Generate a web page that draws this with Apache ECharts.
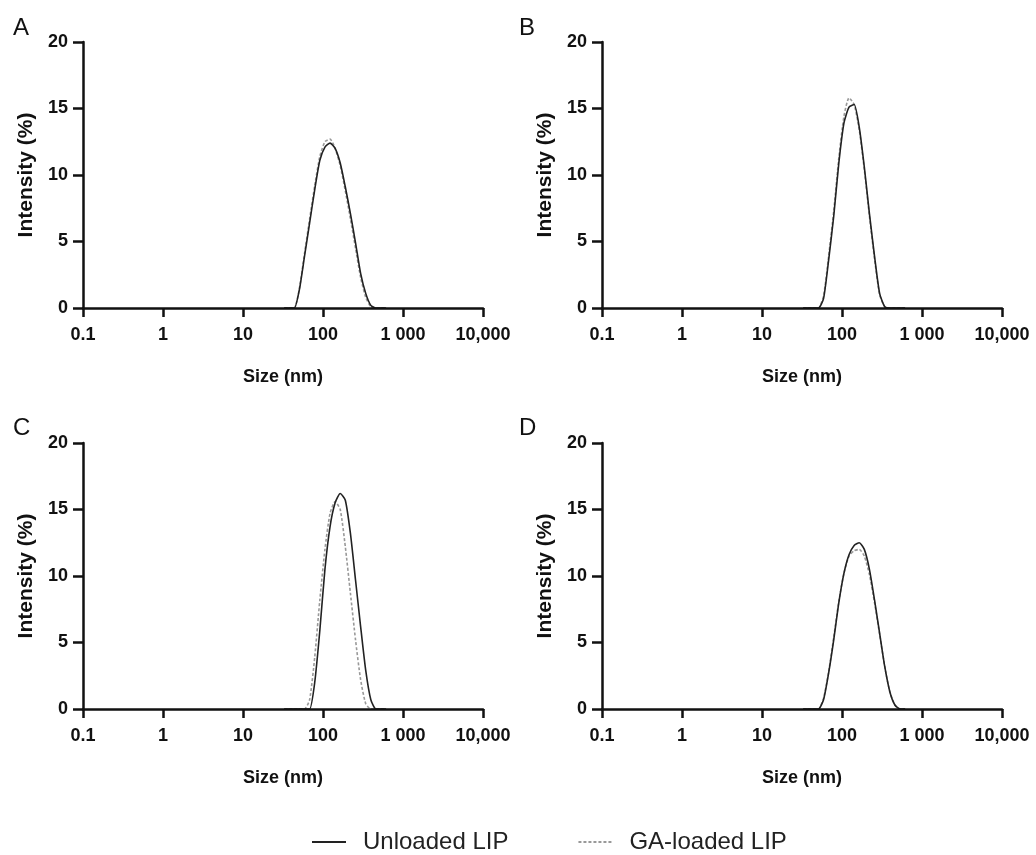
<!DOCTYPE html>
<html>
<head>
<meta charset="utf-8">
<script src="https://cdn.jsdelivr.net/npm/echarts@6/dist/echarts.min.js"></script>
<style>
  html, body { margin: 0; padding: 0; background: #fff; }
  #chart { width: 1036px; height: 855px; }
</style>
</head>
<body>
<div id="chart"></div>
<script>
// size bins (nm) used by the DLS instrument around the peaks
const sizes = [32.67, 37.84, 43.82, 50.75, 58.77, 68.06, 78.82, 91.28, 105.7, 122.4, 141.8,
  164.2, 190.1, 220.2, 255.0, 295.3, 342.0, 396.1, 458.7, 531.2, 615.1];

// intensity (%) per bin
const unloadedA = [0, 0, 0, 1.4, 3.9, 6.4, 8.9, 11.1, 12.1, 12.4, 12.0, 10.9, 9.1, 7.1, 4.9, 2.6, 1.1, 0.2, 0, 0, 0];
const loadedA   = [0, 0, 0, 1.5, 4.1, 6.7, 9.2, 11.4, 12.5, 12.7, 12.0, 10.7, 8.8, 6.7, 4.5, 2.3, 0.8, 0.1, 0, 0, 0];
const unloadedB = [0, 0, 0, 0, 0.7, 3.6, 6.9, 10.9, 13.9, 15.1, 15.3, 13.6, 10.6, 7.1, 3.9, 1.1, 0.1, 0, 0, 0, 0];
const loadedB   = [0, 0, 0, 0, 0.9, 3.9, 7.3, 11.3, 14.4, 15.8, 15.3, 13.4, 10.4, 6.9, 3.7, 1.0, 0.1, 0, 0, 0, 0];
const unloadedC = [0, 0, 0, 0, 0, 0, 2.0, 5.9, 10.5, 13.7, 15.5, 16.2, 15.7, 13.2, 9.7, 6.2, 2.9, 0.7, 0, 0, 0];
const loadedC   = [0, 0, 0, 0, 0, 0.7, 3.9, 8.2, 12.0, 14.7, 15.6, 15.0, 12.2, 8.7, 5.2, 2.2, 0.4, 0, 0, 0, 0];
const unloadedD = [0, 0, 0, 0, 0.7, 2.7, 5.2, 8.0, 10.2, 11.6, 12.3, 12.5, 12.0, 10.5, 8.2, 5.7, 3.2, 1.3, 0.3, 0, 0];
const loadedD   = [0, 0, 0, 0, 0.8, 2.8, 5.4, 8.1, 10.2, 11.5, 11.9, 12.0, 11.5, 10.1, 8.0, 5.6, 3.2, 1.3, 0.3, 0, 0];

const panelNames = ['A', 'B', 'C', 'D'];
const xTickLabels = { 0.1: '0.1', 1: '1', 10: '10', 100: '100', 1000: '1 000', 10000: '10,000' };

const unloaded = [unloadedA, unloadedB, unloadedC, unloadedD];
const loaded = [loadedA, loadedB, loadedC, loadedD];

const gridPos = [
  { left: 83, top: 42 },
  { left: 602, top: 42 },
  { left: 83, top: 443 },
  { left: 602, top: 443 }
];
const letterPos = [
  { left: 8, top: 11 },
  { left: 514, top: 11 },
  { left: 8, top: 411 },
  { left: 514, top: 411 }
];

const FONT = '"Liberation Sans", Arial, sans-serif';
const axisLine = { show: true, lineStyle: { color: '#111', width: 2.5 } };
const axisTick = { show: true, length: 9, lineStyle: { color: '#111', width: 2.5 } };
const tickLabel = { color: '#111', fontFamily: FONT, fontWeight: 'bold', fontSize: 18 };

function pairs(vals) {
  return sizes.map((s, i) => [s, vals[i]]);
}

let grid = [], xAxis = [], yAxis = [], series = [], title = [];
gridPos.forEach((p, i) => {
  grid.push({ left: p.left, top: p.top, width: 400, height: 266 });
  title.push({
    text: panelNames[i], left: letterPos[i].left, top: letterPos[i].top,
    textStyle: { fontFamily: FONT, fontWeight: 'normal', fontSize: 24, color: '#111' }
  });
  xAxis.push({
    gridIndex: i, type: 'log', logBase: 10, min: 0.1, max: 10000, z: 10,
    name: 'Size (nm)', nameLocation: 'middle', nameGap: 60,
    nameTextStyle: { color: '#111', fontFamily: FONT, fontWeight: 'bold', fontSize: 18 },
    axisLine, axisTick,
    minorTick: { show: false },
    splitLine: { show: false },
    axisLabel: Object.assign({ margin: 18, formatter: v => xTickLabels[v] !== undefined ? xTickLabels[v] : '' }, tickLabel)
  });
  yAxis.push({
    gridIndex: i, type: 'value', min: 0, max: 20, interval: 5, z: 10,
    name: 'Intensity (%)', nameLocation: 'middle', nameGap: 46,
    nameTextStyle: { color: '#111', fontFamily: FONT, fontWeight: 'bold', fontSize: 21 },
    axisLine, axisTick: Object.assign({}, axisTick, { length: 10 }),
    splitLine: { show: false },
    axisLabel: Object.assign({ margin: 15 }, tickLabel)
  });
  series.push({
    name: 'Unloaded LIP', type: 'line', xAxisIndex: i, yAxisIndex: i,
    data: pairs(unloaded[i]), symbol: 'none', smooth: 0.2, z: 3,
    lineStyle: { color: '#222', width: 1.6 }, itemStyle: { color: '#222' }
  });
  series.push({
    name: 'GA-loaded LIP', type: 'line', xAxisIndex: i, yAxisIndex: i,
    data: pairs(loaded[i]), symbol: 'none', smooth: 0.2, z: 2,
    lineStyle: { color: '#999', width: 1.6, type: [3, 2] }, itemStyle: { color: '#999' }
  });
});

const chart = echarts.init(document.getElementById('chart'), null, { renderer: 'canvas' });
chart.setOption({
  animation: false,
  backgroundColor: '#fff',
  title,
  grid, xAxis, yAxis, series,
  legend: {
    data: ['Unloaded LIP', 'GA-loaded LIP'],
    left: 306, top: 825,
    itemWidth: 34, itemHeight: 14, itemGap: 69,
    itemStyle: { opacity: 0 },
    textStyle: { fontFamily: FONT, fontSize: 24, color: '#222', padding: [0, 0, 0, 12] }
  }
});
</script>
</body>
</html>
